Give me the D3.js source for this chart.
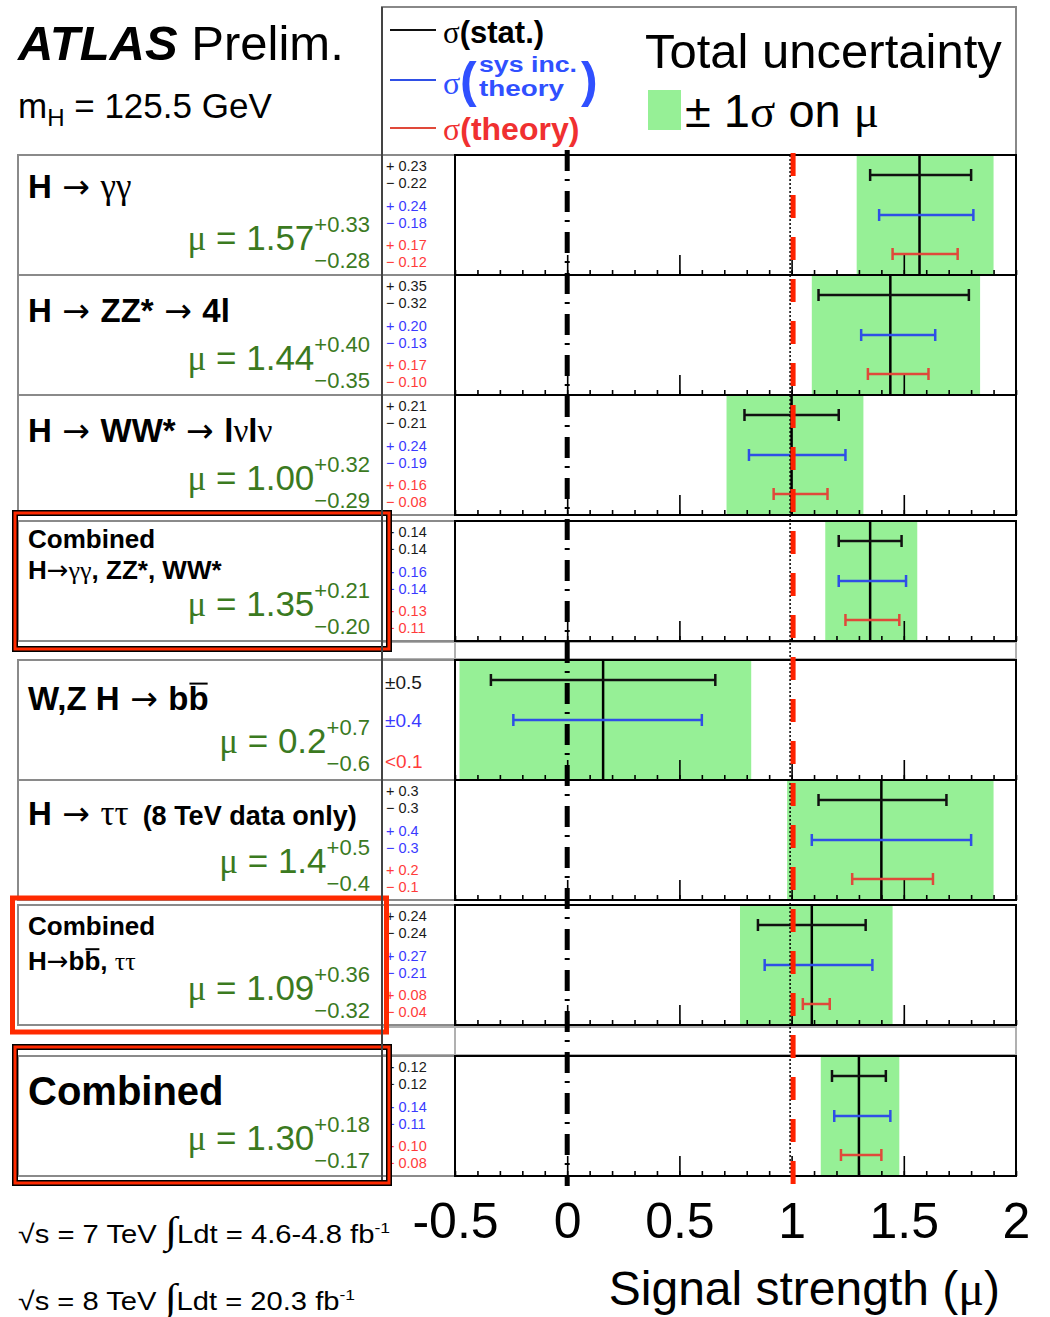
<!DOCTYPE html>
<html><head><meta charset="utf-8">
<script src="https://cdn.jsdelivr.net/npm/d3@7"></script>
<style>body{margin:0;background:#fff}svg{display:block}</style>
</head><body>
<svg id="c" width="1050" height="1317"></svg>
<script>
// Measured signal strengths (mu) and their uncertainties per channel
const channels = ["H→γγ", "H→ZZ*→4l", "H→WW*→lνlν", "Combined γγ,ZZ*,WW*", "W,Z H→bb", "H→ττ", "Combined bb,ττ", "Combined"];
const mu     = [1.57, 1.44, 1.00, 1.35, 0.16, 1.40, 1.09, 1.30];
const totHi  = [0.33, 0.40, 0.32, 0.21, 0.66, 0.50, 0.36, 0.18];
const totLo  = [0.28, 0.35, 0.29, 0.20, 0.64, 0.42, 0.32, 0.17];
const statHi = [0.23, 0.35, 0.21, 0.14, 0.50, 0.29, 0.24, 0.12];
const statLo = [0.22, 0.32, 0.21, 0.14, 0.50, 0.28, 0.24, 0.12];
const sysHi  = [0.24, 0.20, 0.24, 0.16, 0.44, 0.40, 0.27, 0.14];
const sysLo  = [0.18, 0.13, 0.19, 0.14, 0.40, 0.31, 0.21, 0.11];
const thHi   = [0.17, 0.17, 0.16, 0.13, null, 0.23, 0.08, 0.10];
const thLo   = [0.12, 0.10, 0.08, 0.11, null, 0.13, 0.04, 0.08];
const thLimit = [null, null, null, null, 0.1, null, null, null];
const digits = [2, 2, 2, 2, 1, 1, 2, 2];
const xTicks = [-0.5, 0, 0.5, 1, 1.5, 2];
const majorTicks = [0, 0.5, 1, 1.5];
const minorTicks = d3.range(-5, 21).map(i => i / 10);

// Row titles: lines of styled segments
const titles = [
  [[{t:"H",b:1},{t:" → ",arrow:1},{t:"γγ",serif:1,size:35}]],
  [[{t:"H",b:1},{t:" → ",arrow:1},{t:"ZZ*",b:1},{t:" → ",arrow:1},{t:"4l",b:1}]],
  [[{t:"H",b:1},{t:" → ",arrow:1},{t:"WW*",b:1},{t:" → ",arrow:1},{t:"l",b:1},{t:"ν",serif:1},{t:"l",b:1},{t:"ν",serif:1}]],
  [[{t:"Combined",b:1}],[{t:"H",b:1},{t:"→",arrow:1},{t:"γγ",serif:1},{t:", ZZ*, WW*",b:1}]],
  [[{t:"W,Z H",b:1},{t:" → ",arrow:1},{t:"b",b:1},{t:"b",b:1,over:1}]],
  [[{t:"H",b:1},{t:" → ",arrow:1},{t:"ττ",serif:1,size:35},{t:"(8 TeV data only)",b:1,size:27,dx:14}]],
  [[{t:"Combined",b:1}],[{t:"H",b:1},{t:"→",arrow:1},{t:"b",b:1},{t:"b",b:1,over:1},{t:", ",b:1},{t:"ττ",serif:1}]],
  [[{t:"Combined",b:1}]]
];

// Layout
const rowTop = [155, 275, 395, 521, 660, 780, 905, 1056];
const rowH = 120;
const titleDy = [[43],[47],[47],[27,58],[50],[45],[30,65],[49]];
const titleSize = [[33],[33],[33],[26,26],[33],[33],[26,26],[40]];
const muDy = [95, 95, 95, 95, 93, 93, 95, 94];
const barDy = [20, 60, 99];
const numDy = [16, 33, 56, 73, 95, 112];

const sans = "'Liberation Sans', Arial, Helvetica, sans-serif";
const serif = "'Liberation Serif', 'Times New Roman', serif";
const arrowFont = "'DejaVu Sans', sans-serif";
const GREEN_TXT = "#3b7a1f", BAND = "#96f096";
const C_STAT = "#111", C_SYS = "#2f4fe6", C_TH = "#e0493a";
const T_STAT = "#1a1a1a", T_SYS = "#3a3aff", T_TH = "#ff3b3b";

const svg = d3.select("#c");
svg.append("rect").attr("width", 1050).attr("height", 1317).attr("fill", "#fff");
const x = d3.scaleLinear().domain([-0.5, 2]).range([455, 1016]);
const fmt = (v, d) => v.toFixed(d);

function rich(parent, px, py, segs, opt) {
  opt = opt || {};
  const t = parent.append("text").attr("x", px).attr("y", py)
    .attr("font-family", opt.family || sans).attr("font-size", opt.size || 30)
    .attr("fill", opt.fill || "#000");
  if (opt.anchor) t.attr("text-anchor", opt.anchor);
  segs.forEach(s => {
    const ts = t.append("tspan").text(s.t);
    if (s.b) ts.attr("font-weight", "bold");
    if (s.i) ts.attr("font-style", "italic");
    if (s.serif) ts.attr("font-family", serif);
    if (s.arrow) ts.attr("font-family", arrowFont);
    if (s.size) ts.attr("font-size", s.size);
    if (s.dy) ts.attr("dy", s.dy);
    if (s.dx) ts.attr("dx", s.dx);
    if (s.fill) ts.attr("fill", s.fill);
    if (s.over) ts.classed("over", true);
  });
  const fs = opt.size || 30;
  t.selectAll("tspan.over").each(function () {
    const bb = this.getBBox();
    parent.append("line").attr("x1", bb.x + 1).attr("x2", bb.x + bb.width - 1)
      .attr("y1", py - 0.8 * fs).attr("y2", py - 0.8 * fs)
      .attr("stroke", opt.fill || "#000").attr("stroke-width", 2);
  });
  return t;
}

// ---------- Header ----------
rich(svg, 18, 60, [{t:"ATLAS",b:1,i:1},{t:" Prelim."}], {size: 49});
rich(svg, 18, 118, [{t:"m"},{t:"H",size:24,dy:8},{t:" = 125.5 GeV",dy:-8}], {size: 35});

// Legend box
const leg = svg.append("g");
leg.append("rect").attr("x", 382).attr("y", 7).attr("width", 634).attr("height", 148)
  .attr("fill", "none").attr("stroke", "#888").attr("stroke-width", 2);
leg.append("line").attr("x1", 390).attr("x2", 436).attr("y1", 30).attr("y2", 30).attr("stroke", C_STAT).attr("stroke-width", 2);
rich(leg, 443, 43, [{t:"σ",serif:1},{t:"(stat.)",b:1}], {size: 31, fill: "#000"});
leg.append("line").attr("x1", 390).attr("x2", 436).attr("y1", 80).attr("y2", 80).attr("stroke", C_SYS).attr("stroke-width", 2);
rich(leg, 443, 94, [{t:"σ",serif:1}], {size: 32, fill: "#3050ff"});
rich(leg, 460, 97, [{t:"(",b:1}], {size: 50, fill: "#3050ff"});
rich(leg, 479, 72, [{t:"sys inc.",b:1}], {size: 22, fill: "#3050ff"})
  .attr("textLength", 98).attr("lengthAdjust", "spacingAndGlyphs");
rich(leg, 479, 96, [{t:"theory",b:1}], {size: 22, fill: "#3050ff"})
  .attr("textLength", 85).attr("lengthAdjust", "spacingAndGlyphs");
rich(leg, 581, 97, [{t:")",b:1}], {size: 50, fill: "#3050ff"});
leg.append("line").attr("x1", 390).attr("x2", 436).attr("y1", 128).attr("y2", 128).attr("stroke", C_TH).attr("stroke-width", 2);
rich(leg, 443, 140, [{t:"σ",serif:1},{t:"(theory)",b:1}], {size: 32, fill: "#f03030"});
rich(leg, 645, 68, [{t:"Total uncertainty"}], {size: 49});
leg.append("rect").attr("x", 648).attr("y", 90).attr("width", 33).attr("height", 40).attr("fill", BAND);
rich(leg, 685, 127, [{t:"± 1"},{t:"σ",serif:1},{t:" on "},{t:"μ",serif:1}], {size: 47});

// ---------- Gap bands between groups ----------
[[641, 660], [1026, 1056]].forEach(([a, b]) => {
  svg.append("rect").attr("x", 382).attr("y", a + 1).attr("width", 634).attr("height", b - a - 2)
    .attr("fill", "none").attr("stroke", "#b0b0b0").attr("stroke-width", 2);
  svg.append("line").attr("x1", 455).attr("x2", 455).attr("y1", a).attr("y2", b)
    .attr("stroke", "#b0b0b0").attr("stroke-width", 2);
});

// ---------- Rows ----------
channels.forEach((name, i) => {
  const T = rowTop[i], B = T + rowH;
  const g = svg.append("g").attr("class", "row");
  const d = digits[i];

  // label + number column outline
  g.append("rect").attr("x", 18).attr("y", T).attr("width", 437).attr("height", rowH)
    .attr("fill", "none").attr("stroke", "#8a8a8a").attr("stroke-width", 2);

  // title lines
  titles[i].forEach((line, k) => {
    rich(g, 28, T + titleDy[i][k], line, {size: titleSize[i][k]});
  });

  // mu = value (+hi / -lo)
  const supX = 370;
  const sup = g.append("text").attr("x", supX).attr("y", T + muDy[i] - 18).attr("text-anchor", "end")
    .attr("font-family", sans).attr("font-size", 22).attr("fill", GREEN_TXT).text("+" + fmt(totHi[i], d));
  g.append("text").attr("x", supX).attr("y", T + muDy[i] + 18).attr("text-anchor", "end")
    .attr("font-family", sans).attr("font-size", 22).attr("fill", GREEN_TXT).text("−" + fmt(totLo[i], d));
  const sw = sup.node().getComputedTextLength();
  rich(g, supX - sw, T + muDy[i], [{t:"μ",serif:1},{t:" = " + fmt(mu[i], d)}],
    {size: 35, fill: GREEN_TXT, anchor: "end"});

  // uncertainty breakdown column
  const nc = g.append("g").attr("font-family", sans);
  if (thLimit[i] !== null) {
    const big = [["±" + fmt(statHi[i], 1), T_STAT, 29], ["±" + fmt(sysHi[i], 1), T_SYS, 67], ["<" + fmt(thLimit[i], 1), T_TH, 108]];
    big.forEach(([s, c, dy]) => nc.append("text").attr("x", 385).attr("y", T + dy)
      .attr("font-size", 19).attr("fill", c).text(s));
  } else {
    const lines = [
      ["+ " + fmt(statHi[i], d), T_STAT], ["− " + fmt(statLo[i], d), T_STAT],
      ["+ " + fmt(sysHi[i], d), T_SYS], ["− " + fmt(sysLo[i], d), T_SYS],
      ["+ " + fmt(thHi[i], d), T_TH], ["− " + fmt(thLo[i], d), T_TH]
    ];
    lines.forEach(([s, c], k) => nc.append("text").attr("x", 386).attr("y", T + numDy[k])
      .attr("font-size", 14.5).attr("fill", c).text(s));
  }

  // total uncertainty band
  g.append("rect").attr("x", x(mu[i] - totLo[i])).attr("y", T)
    .attr("width", x(mu[i] + totHi[i]) - x(mu[i] - totLo[i])).attr("height", rowH)
    .attr("fill", BAND);

  // ticks along the bottom of each panel
  const minorAx = g.append("g").attr("transform", `translate(0,${B})`)
    .call(d3.axisBottom(x).tickValues(minorTicks).tickSize(-5).tickFormat(""));
  const majorAx = g.append("g").attr("transform", `translate(0,${B})`)
    .call(d3.axisBottom(x).tickValues(majorTicks).tickSize(-20).tickFormat(""));
  [minorAx, majorAx].forEach(a => {
    a.select(".domain").remove();
    a.selectAll("line").attr("stroke", "#000").attr("stroke-width", 1.6);
  });

  // central value line
  g.append("line").attr("x1", x(mu[i])).attr("x2", x(mu[i])).attr("y1", T).attr("y2", B)
    .attr("stroke", "#000").attr("stroke-width", 2.5);

  // error bars
  const bars = [[statLo[i], statHi[i], C_STAT], [sysLo[i], sysHi[i], C_SYS], [thLo[i], thHi[i], C_TH]];
  bars.forEach(([lo, hi, c], k) => {
    if (lo === null || hi === null) return;
    const y = T + barDy[k];
    const x1 = x(mu[i] - lo), x2 = x(mu[i] + hi);
    g.append("line").attr("x1", x1).attr("x2", x2).attr("y1", y).attr("y2", y)
      .attr("stroke", c).attr("stroke-width", 2.5);
    [x1, x2].forEach(xx => g.append("line").attr("x1", xx).attr("x2", xx)
      .attr("y1", y - 6).attr("y2", y + 6).attr("stroke", c).attr("stroke-width", 2.5));
  });

  // panel frame
  g.append("rect").attr("x", 455).attr("y", T).attr("width", 561).attr("height", rowH)
    .attr("fill", "none").attr("stroke", "#000").attr("stroke-width", 2);
});

// highlight boxes around combined results
function hiBox(bx, by, bw, bh, withBlack, redW) {
  if (withBlack) svg.append("rect").attr("x", bx).attr("y", by).attr("width", bw).attr("height", bh)
    .attr("fill", "none").attr("stroke", "#000").attr("stroke-width", 6);
  svg.append("rect").attr("x", bx).attr("y", by).attr("width", bw).attr("height", bh)
    .attr("fill", "none").attr("stroke", "#ff2a00").attr("stroke-width", redW);
}
hiBox(15, 513, 374, 136, true, 3);
hiBox(12.5, 898, 374, 134, false, 5);
hiBox(15, 1047, 374, 136, true, 3);

// column separator
svg.append("line").attr("x1", 382).attr("x2", 382).attr("y1", 7).attr("y2", 1180)
  .attr("stroke", "#444").attr("stroke-width", 2);

// reference lines at mu = 0 and mu = 1
svg.append("line").attr("x1", x(0)).attr("x2", x(0)).attr("y1", 150).attr("y2", 1186)
  .attr("stroke", "#000").attr("stroke-width", 5).attr("stroke-dasharray", "21,8,2,10");
svg.append("line").attr("x1", x(1) - 1.5).attr("x2", x(1) - 1.5).attr("y1", 155).attr("y2", 1178)
  .attr("stroke", "#000").attr("stroke-width", 1.5).attr("stroke-dasharray", "2,2");
svg.append("line").attr("x1", x(1) + 1.5).attr("x2", x(1) + 1.5).attr("y1", 153).attr("y2", 1186)
  .attr("stroke", "#ff2200").attr("stroke-width", 5).attr("stroke-dasharray", "23,19");

// x axis labels
const xa = svg.append("g").attr("transform", "translate(0,1199)")
  .call(d3.axisBottom(x).tickValues(xTicks).tickSize(0).tickFormat(v => String(v)));
xa.select(".domain").remove();
xa.selectAll("text").attr("font-family", sans).attr("font-size", 50).attr("fill", "#000");
rich(svg, 1000, 1305, [{t:"Signal strength ("},{t:"μ",serif:1},{t:")"}], {size: 48, anchor: "end"});

// luminosity notes
rich(svg, 18, 1243, [{t:"√",size:26},{t:"s = 7 TeV "},{t:"∫",serif:1,size:38},{t:"Ldt = 4.6-4.8 fb"},{t:"-1",size:15,dy:-10}], {size: 25})
  .attr("textLength", 372).attr("lengthAdjust", "spacingAndGlyphs");
rich(svg, 18, 1310, [{t:"√",size:26},{t:"s = 8 TeV "},{t:"∫",serif:1,size:38},{t:"Ldt = 20.3 fb"},{t:"-1",size:15,dy:-10}], {size: 25})
  .attr("textLength", 337).attr("lengthAdjust", "spacingAndGlyphs");
</script>
</body></html>
